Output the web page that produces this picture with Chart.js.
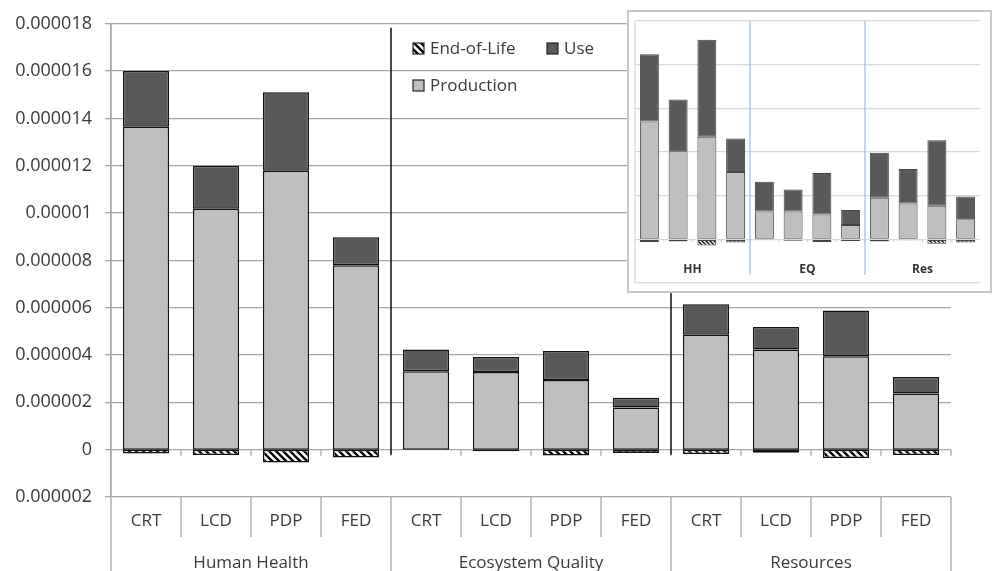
<!DOCTYPE html>
<html>
<head>
<meta charset="utf-8">
<script src="https://cdn.jsdelivr.net/npm/chart.js@4.4.1/dist/chart.umd.min.js"></script>
<style>
  body { margin: 0; background: #fff; }
  #wrap { position: relative; width: 994px; height: 571px; overflow: hidden; }
  #inset { position: absolute; left: 627px; top: 10px; width: 365px; height: 283px;
           border: 2px solid #c8c8c8; background: #fff; box-sizing: border-box; }
</style>
</head>
<body>
<div id="wrap">
  <canvas id="chart"></canvas>
  <div id="inset"><canvas id="insetChart"></canvas></div>
</div>
<script>
// categorias y grupos
const categorias = ["CRT","LCD","PDP","FED","CRT","LCD","PDP","FED","CRT","LCD","PDP","FED"]
const grupos = ["Human Health","Ecosystem Quality","Resources"]
const gruposInset = ["HH","EQ","Res"]

const production = [0.00001365, 0.00001018, 0.00001179, 0.0000078,
                    0.00000332, 0.00000328, 0.00000294, 0.00000178,
                    0.00000486, 0.00000423, 0.00000395, 0.00000237]
const use = [0.00000235, 0.00000182, 0.00000332, 0.00000118,
             0.00000091, 0.00000064, 0.00000123, 0.00000042,
             0.00000129, 0.00000095, 0.00000193, 0.0000007]
const endOfLife = [-0.00000016, -0.00000023, -0.00000054, -0.00000033,
                   0, -0.00000007, -0.00000025, -0.00000014,
                   -0.00000018, -0.00000013, -0.00000035, -0.00000022]

// valores del grafico pequeño (sin escala, en lineas de grilla)
const insetProduction = [2.70, 2.02, 2.35, 1.54, 0.64, 0.64, 0.57, 0.33, 0.95, 0.82, 0.77, 0.46]
const insetUse = [1.54, 1.18, 2.22, 0.77, 0.68, 0.50, 0.95, 0.34, 1.03, 0.79, 1.50, 0.52]
const insetEndOfLife = [-0.06, -0.05, -0.14, -0.07, -0.01, -0.03, -0.06, -0.04, -0.05, -0.02, -0.10, -0.07]

const FONT = "'Open Sans', sans-serif"
const TEXT = "#3a3a3a"
const GRID = "#a6a6a6"
const GRIS_CLARO = "#bfbfbf"
const GRIS_OSCURO = "#595959"

/* patron rayado para End-of-Life */
const rayado = (size, lw) => {
    const c = document.createElement("canvas")
    c.width = size
    c.height = size
    const g = c.getContext("2d")
    g.fillStyle = "#fff"
    g.fillRect(0, 0, size, size)
    g.strokeStyle = "#000"
    g.lineWidth = lw
    g.beginPath()
    g.moveTo(-1, -1); g.lineTo(size + 1, size + 1)
    g.moveTo(-1, size - 1); g.lineTo(1, size + 1)
    g.moveTo(size - 1, -1); g.lineTo(size + 1, 1)
    g.stroke()
    return g.createPattern(c, "repeat")
}

const formatoEje = (v) => {
    const r = Math.abs(Math.round(v * 1e6) / 1e6)
    if (r === 0) return "0"
    return r.toFixed(6).replace(/0+$/, "")
}

/* lineas de la tabla del eje x, separadores, leyenda */
const decoracion = {
    id: "decoracion",
    afterDraw(chart) {
        const { ctx, chartArea } = chart
        const xs = chart.scales.x
        const ys = chart.scales.y
        const w = (chartArea.right - chartArea.left) / categorias.length
        const y0 = ys.getPixelForValue(0)
        const fondo = chart.height
        ctx.save()
        ctx.strokeStyle = GRID
        ctx.lineWidth = 1.3
        ctx.beginPath()
        ctx.moveTo(chartArea.left, chartArea.top)
        ctx.lineTo(chartArea.left, fondo)
        for (let i = 1; i <= categorias.length; i++) {
            const x = xs.getPixelForValue(i) - w / 2
            const borde = i % 4 === 0
            ctx.moveTo(x, chartArea.bottom)
            ctx.lineTo(x, borde ? fondo : chartArea.bottom + 40)
            ctx.moveTo(x, y0)
            ctx.lineTo(x, y0 + 6)
        }
        ctx.stroke()

        // separadores negros entre grupos
        ctx.strokeStyle = "#111"
        ctx.lineWidth = 1.5
        ctx.beginPath()
        ;[4, 8].forEach((i) => {
            const x = xs.getPixelForValue(i) - w / 2
            ctx.moveTo(x, chartArea.top + 4)
            ctx.lineTo(x, y0 + 5)
        })
        ctx.stroke()

        // nombres de grupo
        ctx.fillStyle = TEXT
        ctx.font = "17px " + FONT
        ctx.textAlign = "center"
        ctx.textBaseline = "alphabetic"
        grupos.forEach((g, k) => {
            const x = (xs.getPixelForValue(k * 4) + xs.getPixelForValue(k * 4 + 3)) / 2
            ctx.fillText(g, x, fondo - 3)
        })

        // leyenda
        const items = [
            { label: "End-of-Life", fill: patronEoL, x: 413, y: 43 },
            { label: "Use", fill: GRIS_OSCURO, x: 547, y: 43 },
            { label: "Production", fill: GRIS_CLARO, x: 413, y: 80 }
        ]
        ctx.textAlign = "left"
        ctx.textBaseline = "middle"
        items.forEach((it) => {
            ctx.fillStyle = it.fill
            ctx.fillRect(it.x, it.y, 11, 11)
            ctx.strokeStyle = "#222"
            ctx.lineWidth = 1.2
            ctx.strokeRect(it.x, it.y, 11, 11)
            ctx.fillStyle = TEXT
            ctx.fillText(it.label, it.x + 17, it.y + 6)
        })
        ctx.restore()
    }
}

const patronEoL = rayado(7, 2.3)

const datos = {
    labels: categorias,
    datasets: [
        { label: "End-of-Life", data: endOfLife, backgroundColor: patronEoL },
        { label: "Production", data: production, backgroundColor: GRIS_CLARO },
        { label: "Use", data: use, backgroundColor: GRIS_OSCURO }
    ].map((d) => ({ ...d, borderColor: "#111", borderWidth: 1.5, borderSkipped: false,
                    barPercentage: 0.66, categoryPercentage: 1 }))
}

new Chart(document.getElementById("chart"), {
    type: "bar",
    data: datos,
    options: {
        responsive: true,
        maintainAspectRatio: false,
        animation: false,
        layout: { padding: { top: 21, right: 43, left: 0, bottom: 0 } },
        plugins: { legend: { display: false }, tooltip: { enabled: false } },
        scales: {
            x: {
                stacked: true,
                grid: { display: false, drawTicks: false },
                border: { display: false },
                ticks: { color: TEXT, font: { family: FONT, size: 17 }, padding: 14, maxRotation: 0, autoSkip: false },
                afterFit: (s) => { s.height = 74 }
            },
            y: {
                stacked: true,
                min: -0.000002,
                max: 0.000018,
                grid: { color: GRID, lineWidth: 1.3, tickLength: 6 },
                border: { color: GRID, width: 1.3 },
                ticks: { stepSize: 0.000002, color: TEXT, font: { family: FONT, size: 18 }, padding: 13,
                         callback: (v) => formatoEje(v) },
                afterFit: (s) => { s.width = 111 }
            }
        }
    },
    plugins: [decoracion]
})

/* grafico pequeño insertado */
const decoracionInset = {
    id: "decoracionInset",
    afterDraw(chart) {
        const { ctx, chartArea } = chart
        const xs = chart.scales.x
        const ys = chart.scales.y
        const w = (chartArea.right - chartArea.left) / categorias.length
        const y0 = ys.getPixelForValue(0)
        ctx.save()
        ctx.strokeStyle = "#d0d0d0"
        ctx.lineWidth = 1
        ctx.beginPath()
        ctx.moveTo(chartArea.left, chartArea.top)
        ctx.lineTo(chartArea.left, chartArea.bottom)
        for (let i = 1; i < categorias.length; i++) {
            const x = xs.getPixelForValue(i) - w / 2
            ctx.moveTo(x, y0)
            ctx.lineTo(x, y0 + 3)
        }
        ctx.stroke()
        ctx.strokeStyle = "#9dbcdc"
        ctx.lineWidth = 1.2
        ctx.beginPath()
        ;[4, 8].forEach((i) => {
            const x = xs.getPixelForValue(i) - w / 2
            ctx.moveTo(x, chartArea.top)
            ctx.lineTo(x, chartArea.bottom - 8)
        })
        ctx.stroke()
        ctx.fillStyle = "#333"
        ctx.font = "bold 12px " + FONT
        ctx.textAlign = "center"
        ctx.textBaseline = "middle"
        gruposInset.forEach((g, k) => {
            const x = (xs.getPixelForValue(k * 4) + xs.getPixelForValue(k * 4 + 3)) / 2
            ctx.fillText(g, x, chartArea.bottom - 13)
        })
        ctx.restore()
    }
}

new Chart(document.getElementById("insetChart"), {
    type: "bar",
    data: {
        labels: categorias,
        datasets: [
            { label: "End-of-Life", data: insetEndOfLife, backgroundColor: rayado(4, 1.3) },
            { label: "Production", data: insetProduction, backgroundColor: GRIS_CLARO },
            { label: "Use", data: insetUse, backgroundColor: GRIS_OSCURO }
        ].map((d) => ({ ...d, borderColor: "#444", borderWidth: 1, borderSkipped: false,
                        barPercentage: 0.66, categoryPercentage: 1 }))
    },
    options: {
        responsive: true,
        maintainAspectRatio: false,
        animation: false,
        layout: { padding: { top: 9, right: 10, left: 6, bottom: 8 } },
        plugins: { legend: { display: false }, tooltip: { enabled: false } },
        scales: {
            x: { stacked: true, display: false },
            y: {
                stacked: true, min: -1, max: 5,
                grid: { color: "#d9d9d9", lineWidth: 1.2, drawTicks: false },
                border: { display: false },
                ticks: { display: false, stepSize: 1 },
                afterFit: (s) => { s.width = 0 }
            }
        }
    },
    plugins: [decoracionInset]
})
</script>
</body>
</html>
